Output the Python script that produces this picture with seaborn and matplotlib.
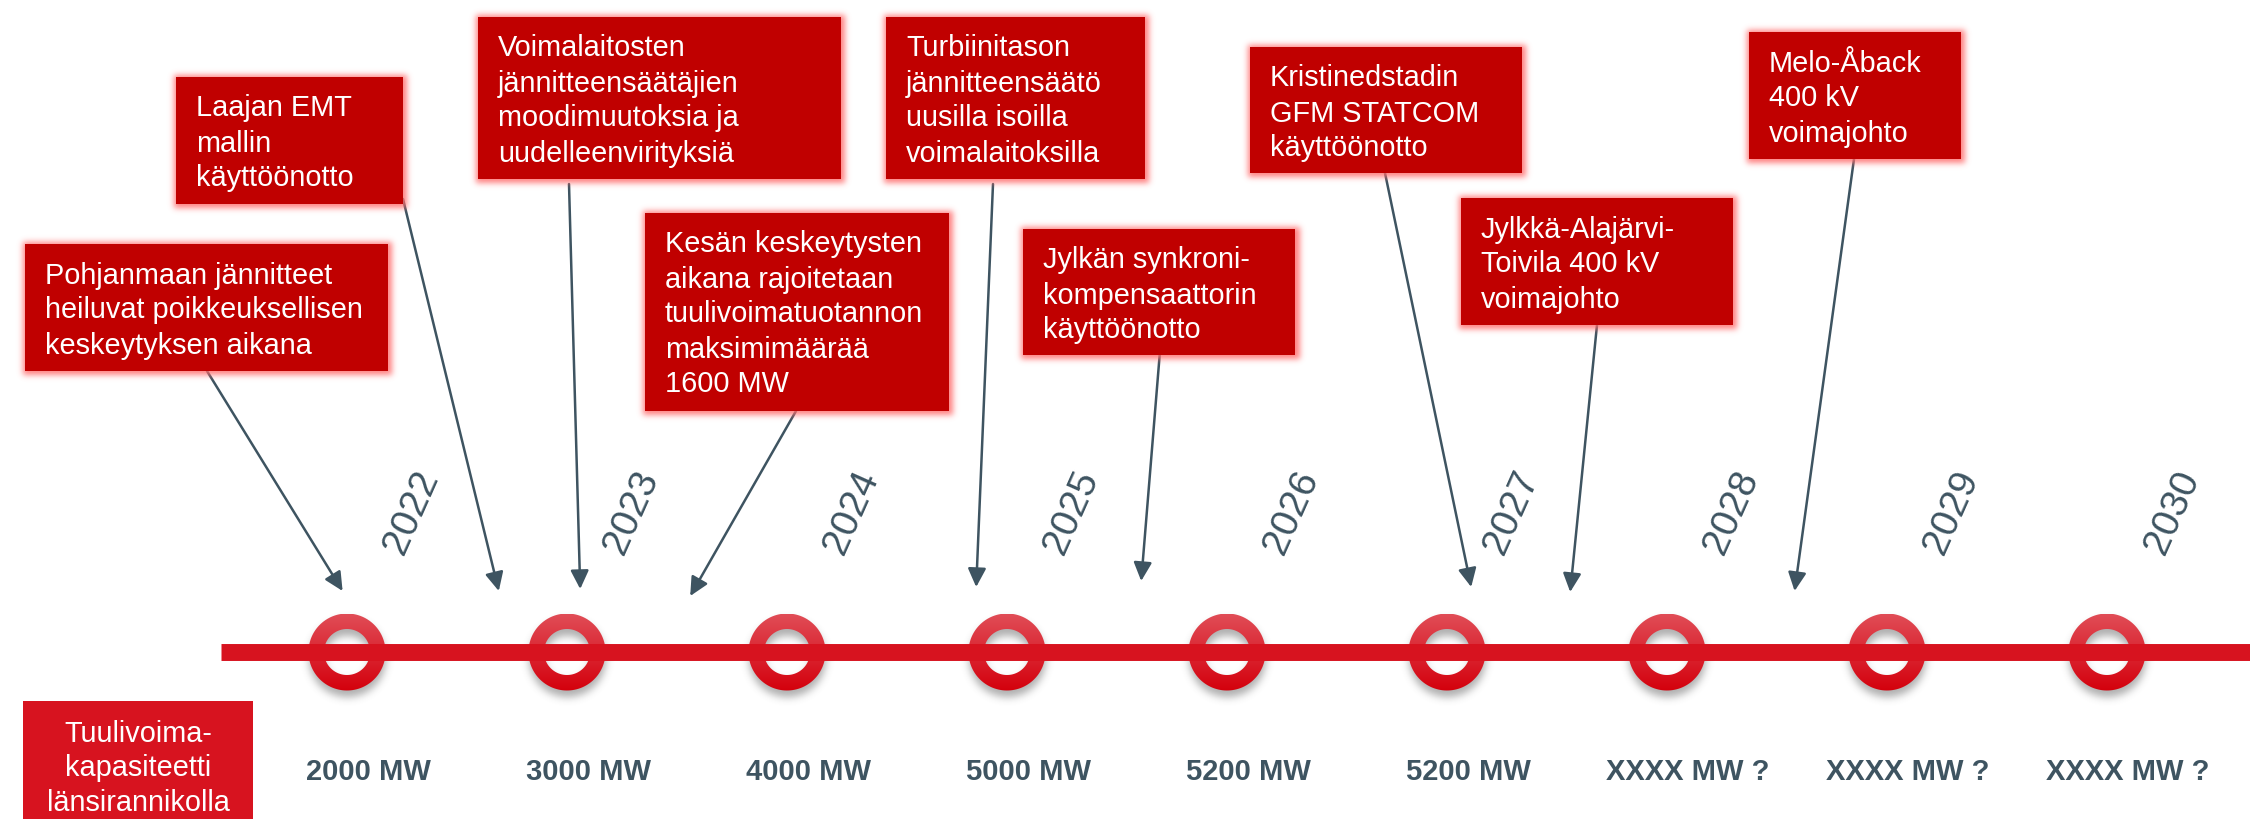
import numpy as np
import matplotlib
matplotlib.use("Agg")
import matplotlib.pyplot as plt
import matplotlib.patches as mpatches
from matplotlib.path import Path
import seaborn as sns

# ─────────────────────────────────────────
# DATA
# ─────────────────────────────────────────
YEARS = [2022, 2023, 2024, 2025, 2026, 2027, 2028, 2029, 2030]
CAPACITY = ["2000 MW", "3000 MW", "4000 MW", "5000 MW", "5200 MW",
            "5200 MW", "XXXX MW ?", "XXXX MW ?", "XXXX MW ?"]
ROW_LABEL = ["Tuulivoima-", "kapasiteetti", "länsirannikolla"]

EVENT_TIMES = [2021.98, 2022.69, 2023.06, 2023.56, 2024.86,
               2025.61, 2027.11, 2027.56, 2028.58]
EVENT_TEXTS = [
    ["Pohjanmaan jännitteet", "heiluvat poikkeuksellisen", "keskeytyksen aikana"],
    ["Laajan EMT", "mallin", "käyttöönotto"],
    ["Voimalaitosten", "jännitteensäätäjien", "moodimuutoksia ja", "uudelleenvirityksiä"],
    ["Kesän keskeytysten", "aikana rajoitetaan", "tuulivoimatuotannon", "maksimimäärää", "1600 MW"],
    ["Turbiinitason", "jännitteensäätö", "uusilla isoilla", "voimalaitoksilla"],
    ["Jylkän synkroni-", "kompensaattorin", "käyttöönotto"],
    ["Kristinedstadin", "GFM STATCOM", "käyttöönotto"],
    ["Jylkkä-Alajärvi-", "Toivila 400 kV", "voimajohto"],
    ["Melo-Åback", "400 kV", "voimajohto"],
]

# ─────────────────────────────────────────
# LAYOUT (pixels of the 2250x820 canvas)
# ─────────────────────────────────────────
W, H = 2250, 820
X0_PX, PX_PER_YEAR, LINE_PX = 347, 220, 653
TIMELINE_START_PX = 221

BOXES = [(25, 245, 388, 372), (176, 78, 403, 205), (478, 18, 841, 180),
         (645, 214, 949, 412), (886, 18, 1145, 180), (1023, 230, 1295, 356),
         (1250, 48, 1522, 174), (1461, 199, 1733, 326), (1749, 33, 1961, 160)]
ARROW_FROM = [(207, 372), (403, 200), (569, 185), (796, 412), (993, 185),
              (1160, 352), (1385, 174), (1597, 326), (1854, 160)]
ARROW_TIP_PY = [592, 592, 590, 597, 588, 582, 588, 593, 592]

DARK_RED = "#c00000"
RED = "#d7131f"
SLATE = "#3e5461"
FONT = ["Liberation Sans", "DejaVu Sans"]

sns.set_theme(style="white")
plt.rcParams["font.family"] = FONT


def X(px):
    return YEARS[0] + (px - X0_PX) / PX_PER_YEAR


def Y(py):
    return LINE_PX - py


def blur(img, sigma):
    r = int(3 * sigma)
    k = np.exp(-0.5 * (np.arange(-r, r + 1) / sigma) ** 2)
    k /= k.sum()
    img = np.apply_along_axis(lambda m: np.convolve(m, k, mode="same"), 0, img)
    img = np.apply_along_axis(lambda m: np.convolve(m, k, mode="same"), 1, img)
    return img


def glow(ax, l, t, r, b, pad=16, color=(1.0, 0.42, 0.42)):
    # soft pink halo round a box, nudged slightly down-right
    gw, gh = int(r - l + 2 * pad), int(b - t + 2 * pad)
    mask = np.zeros((gh, gw))
    mask[pad - 2:gh - pad + 4, pad - 2:gw - pad + 4] = 1.0
    a = blur(mask, 3.0) * 0.85
    rgba = np.zeros((gh, gw, 4))
    rgba[..., :3] = color
    rgba[..., 3] = a
    ax.imshow(rgba, extent=(X(l - pad), X(r + pad), Y(b + pad), Y(t - pad)),
              origin="upper", aspect="auto", zorder=5, interpolation="bilinear")


def ring(ax, xc, r_out=38.5, r_in=23.0):
    # shadow under the ring
    n = 140
    yy, xx = np.mgrid[0:n, 0:n] - n / 2
    d = np.hypot(xx, yy)
    m = ((d <= r_out) & (d >= r_in)).astype(float)
    sh = blur(m, 4.0) * 0.45
    rgba = np.zeros((n, n, 4))
    rgba[..., :3] = 0.3
    rgba[..., 3] = sh
    off = 6
    ax.imshow(rgba, extent=(xc - n / 2 / PX_PER_YEAR, xc + n / 2 / PX_PER_YEAR,
                            -n / 2 - off, n / 2 - off),
              origin="upper", aspect="auto", zorder=1, interpolation="bilinear")

    # gradient-filled annulus
    th = np.linspace(0, 2 * np.pi, 120)
    outer = np.column_stack([xc + r_out / PX_PER_YEAR * np.cos(th), r_out * np.sin(th)])
    inner = np.column_stack([xc + r_in / PX_PER_YEAR * np.cos(th), r_in * np.sin(th)])[::-1]
    codes = [Path.MOVETO] + [Path.LINETO] * (len(th) - 2) + [Path.CLOSEPOLY]
    path = Path(np.vstack([outer, inner]), codes + codes)
    patch = mpatches.PathPatch(path, facecolor="none", edgecolor="none")
    ax.add_patch(patch)
    top = np.array([0.88, 0.30, 0.34])
    bot = np.array([0.83, 0.0, 0.05])
    f = np.linspace(0, 1, 100)[:, None]
    grad = (bot * (1 - f) + top * f)[:, None, :]
    im = ax.imshow(grad, extent=(xc - r_out / PX_PER_YEAR, xc + r_out / PX_PER_YEAR,
                                 -r_out, r_out),
                   origin="lower", aspect="auto", zorder=2, interpolation="bilinear")
    im.set_clip_path(patch)


fig = plt.figure(figsize=(W / 100, H / 100), dpi=100)
ax = fig.add_axes([0, 0, 1, 1])

# rings and timeline
for yr in YEARS:
    ring(ax, yr)
sns.lineplot(x=[X(TIMELINE_START_PX), X(W + 10)], y=[0, 0], color=RED,
             linewidth=12.2, ax=ax, zorder=4, solid_capstyle="butt")

# year labels and capacities
for yr, cap in zip(YEARS, CAPACITY):
    ax.text(yr + 65 / PX_PER_YEAR, Y(512), str(yr), rotation=66, fontsize=28,
            color=SLATE, ha="center", va="center")
    ax.text(yr + 21 / PX_PER_YEAR, Y(772), cap, fontsize=21, fontweight="bold",
            color=SLATE, ha="center", va="center")

# event boxes with arrows
for (l, t, r, b), lines, t_ev, (sx, sy), tip in zip(BOXES, EVENT_TEXTS, EVENT_TIMES,
                                                    ARROW_FROM, ARROW_TIP_PY):
    glow(ax, l, t, r, b)
    ax.add_patch(mpatches.Rectangle((X(l), Y(b)), (r - l) / PX_PER_YEAR, b - t,
                                    facecolor=DARK_RED, edgecolor="none", zorder=6))
    for i, line in enumerate(lines):
        ax.text(X(l + 20), Y(t + 38.5 + 35 * i), line, color="white", fontsize=20.8,
                ha="left", va="baseline", zorder=7)
    ax.annotate("", xy=(t_ev, Y(tip)), xytext=(X(sx), Y(sy)), zorder=3,
                arrowprops=dict(arrowstyle="-|>,head_length=0.45,head_width=0.22",
                                color=SLATE, lw=1.8, mutation_scale=25,
                                shrinkA=0, shrinkB=0))

# row label box
ax.add_patch(mpatches.Rectangle((X(23), Y(W)), (253 - 23) / PX_PER_YEAR, W - 702,
                                facecolor=RED, edgecolor="none", zorder=6))
for i, line in enumerate(ROW_LABEL):
    ax.text(X(138), Y(742 + 34.5 * i), line, color="white", fontsize=20.8,
            ha="center", va="baseline", zorder=7)

ax.set_xlim(X(0), X(W))
ax.set_ylim(Y(H), Y(0))
ax.axis("off")

fig.savefig("out.png", dpi=100, facecolor="white")
